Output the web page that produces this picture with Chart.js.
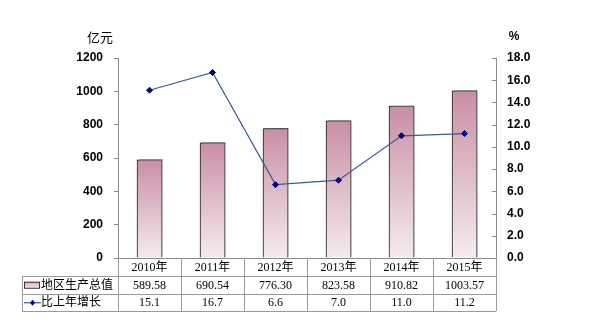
<!DOCTYPE html>
<html>
<head>
<meta charset="utf-8">
<script src="https://cdn.jsdelivr.net/npm/chart.js@4.4.0/dist/chart.umd.min.js"></script>
<style>
  html, body { margin: 0; padding: 0; background: #fff; }
  #wrap { width: 613px; height: 329px; }
</style>
</head>
<body>
<div id="wrap"><canvas id="c" width="613" height="329"></canvas></div>
<script>
// 年份与数据
const years = ['2010年', '2011年', '2012年', '2013年', '2014年', '2015年'];
const gdp = [589.58, 690.54, 776.30, 823.58, 910.82, 1003.57];
const growth = [15.1, 16.7, 6.6, 7.0, 11.0, 11.2];
const seriesNames = ['地区生产总值', '比上年增长'];
const units = ['亿元', '%'];

const AXIS_GREY = '#8a8a8a';
const LINE_BLUE = '#3d5a8c';
const MARK_BLUE = '#000080';
const TABLE_FONT = '12px "Liberation Serif", "Noto Sans CJK SC", serif';

// gray drop shadow behind the bars
const barShadow = {
  id: 'barShadow',
  beforeDatasetDraw(chart, args) {
    if (args.meta.type !== 'bar') return;
    const ctx = chart.ctx;
    ctx.save();
    ctx.shadowColor = 'rgba(90,90,90,0.75)';
    ctx.shadowOffsetX = 2;
    ctx.shadowOffsetY = -1;
    ctx.shadowBlur = 0;
  },
  afterDatasetDraw(chart, args) {
    if (args.meta.type !== 'bar') return;
    chart.ctx.restore();
  }
};

// data table under the x axis, unit labels, inner ticks on the right axis
const dataTable = {
  id: 'dataTable',
  afterDraw(chart) {
    const ctx = chart.ctx;
    const area = chart.chartArea;
    const x = chart.scales.x;
    const y1 = chart.scales.y1;
    const colW = (area.right - area.left) / years.length;
    const left = 22;
    const rows = [area.bottom, area.bottom + 18, area.bottom + 35.5, area.bottom + 53];

    ctx.save();

    // right axis tick marks, pointing inward
    ctx.strokeStyle = AXIS_GREY;
    ctx.lineWidth = 1;
    y1.ticks.forEach(t => {
      const py = Math.round(y1.getPixelForValue(t.value)) + 0.5;
      ctx.beginPath();
      ctx.moveTo(area.right - 4, py);
      ctx.lineTo(area.right, py);
      ctx.stroke();
    });

    // x axis line
    ctx.beginPath();
    ctx.moveTo(area.left, Math.round(rows[0]) + 0.5);
    ctx.lineTo(area.right, Math.round(rows[0]) + 0.5);
    ctx.stroke();

    // grid
    ctx.strokeStyle = '#9a9a9a';
    ctx.beginPath();
    for (let r = 1; r < rows.length; r++) {
      const yy = Math.round(rows[r]) + 0.5;
      ctx.moveTo(left, yy);
      ctx.lineTo(area.right, yy);
    }
    const lx = left + 0.5;
    ctx.moveTo(lx, rows[1]);
    ctx.lineTo(lx, rows[3]);
    for (let i = 0; i <= years.length; i++) {
      const cx = Math.round(area.left + i * colW) + 0.5;
      ctx.moveTo(cx, rows[0]);
      ctx.lineTo(cx, rows[3]);
    }
    ctx.stroke();

    // cell text
    ctx.fillStyle = '#000';
    ctx.font = TABLE_FONT;
    ctx.textAlign = 'center';
    ctx.textBaseline = 'middle';
    years.forEach((label, i) => {
      const cx = x.getPixelForValue(i);
      ctx.fillText(label, cx, (rows[0] + rows[1]) / 2 + 1);
      ctx.fillText(gdp[i].toFixed(2), cx, (rows[1] + rows[2]) / 2 + 1);
      ctx.fillText(growth[i].toFixed(1), cx, (rows[2] + rows[3]) / 2 + 1);
    });

    // legend keys
    const r1 = (rows[1] + rows[2]) / 2;
    const r2 = (rows[2] + rows[3]) / 2;
    const g = ctx.createLinearGradient(0, r1 - 3, 0, r1 + 3);
    g.addColorStop(0, '#d9a9bb');
    g.addColorStop(1, '#f1e3ea');
    ctx.fillStyle = g;
    ctx.fillRect(24.5, r1 - 3, 15, 6);
    ctx.strokeStyle = '#333';
    ctx.strokeRect(24.5, r1 - 3 + 0.5, 15, 6);

    ctx.strokeStyle = LINE_BLUE;
    ctx.lineWidth = 1.2;
    ctx.beginPath();
    ctx.moveTo(24, r2 + 0.5);
    ctx.lineTo(41, r2 + 0.5);
    ctx.stroke();
    ctx.fillStyle = MARK_BLUE;
    ctx.beginPath();
    ctx.moveTo(32.5, r2 - 2.5);
    ctx.lineTo(35, r2 + 0.5);
    ctx.lineTo(32.5, r2 + 3.5);
    ctx.lineTo(30, r2 + 0.5);
    ctx.closePath();
    ctx.fill();

    ctx.fillStyle = '#000';
    ctx.textAlign = 'left';
    ctx.fillText(seriesNames[0], 41, r1 + 1);
    ctx.fillText(seriesNames[1], 41, r2 + 1);

    // axis units
    ctx.font = '13px "Noto Sans CJK SC", sans-serif';
    ctx.textAlign = 'center';
    ctx.fillText(units[0], 100, 37);
    ctx.font = 'bold 12px "Liberation Sans", Arial, sans-serif';
    ctx.fillText(units[1], 514, 37);

    ctx.restore();
  }
};

const tickFont = { family: '"Liberation Sans", Arial, sans-serif', size: 12, weight: 'bold' };

new Chart(document.getElementById('c'), {
  type: 'bar',
  data: {
    labels: years,
    datasets: [
      {
        type: 'line',
        label: seriesNames[1],
        data: growth,
        yAxisID: 'y1',
        order: 0,
        borderColor: LINE_BLUE,
        borderWidth: 1.2,
        pointStyle: 'rectRot',
        pointRadius: 3,
        pointBackgroundColor: MARK_BLUE,
        pointBorderColor: MARK_BLUE,
        pointBorderWidth: 1,
        tension: 0
      },
      {
        type: 'bar',
        label: seriesNames[0],
        data: gdp,
        yAxisID: 'y',
        order: 1,
        barThickness: 25,
        borderColor: '#1a1a1a',
        borderWidth: 1,
        backgroundColor: (c) => {
          const chart = c.chart;
          const area = chart.chartArea;
          if (!area || c.type !== 'data') return '#dcb0c0';
          const top = chart.scales.y.getPixelForValue(c.raw);
          const g = chart.ctx.createLinearGradient(0, top, 0, area.bottom);
          g.addColorStop(0, '#c98ea5');
          g.addColorStop(1, '#f4ebf0');
          return g;
        }
      }
    ]
  },
  options: {
    responsive: false,
    animation: false,
    layout: { padding: { top: 58, bottom: 71, left: 0, right: 0 } },
    plugins: {
      legend: { display: false },
      tooltip: { enabled: false }
    },
    scales: {
      x: {
        display: false,
        offset: true
      },
      y: {
        position: 'left',
        min: 0,
        max: 1200,
        ticks: {
          stepSize: 200,
          color: '#000',
          font: tickFont,
          padding: 11,
          callback: (v) => String(v)
        },
        grid: { drawOnChartArea: false, tickLength: 4, color: AXIS_GREY },
        border: { color: AXIS_GREY },
        afterFit(s) { s.width = 118; }
      },
      y1: {
        position: 'right',
        min: 0,
        max: 18,
        ticks: {
          stepSize: 2,
          color: '#000',
          font: tickFont,
          padding: 11,
          callback: (v) => Number(v).toFixed(1)
        },
        grid: { drawOnChartArea: false, drawTicks: false, tickLength: 0, color: AXIS_GREY },
        border: { color: AXIS_GREY },
        afterFit(s) { s.width = 117; }
      }
    }
  },
  plugins: [barShadow, dataTable]
});
</script>
</body>
</html>
